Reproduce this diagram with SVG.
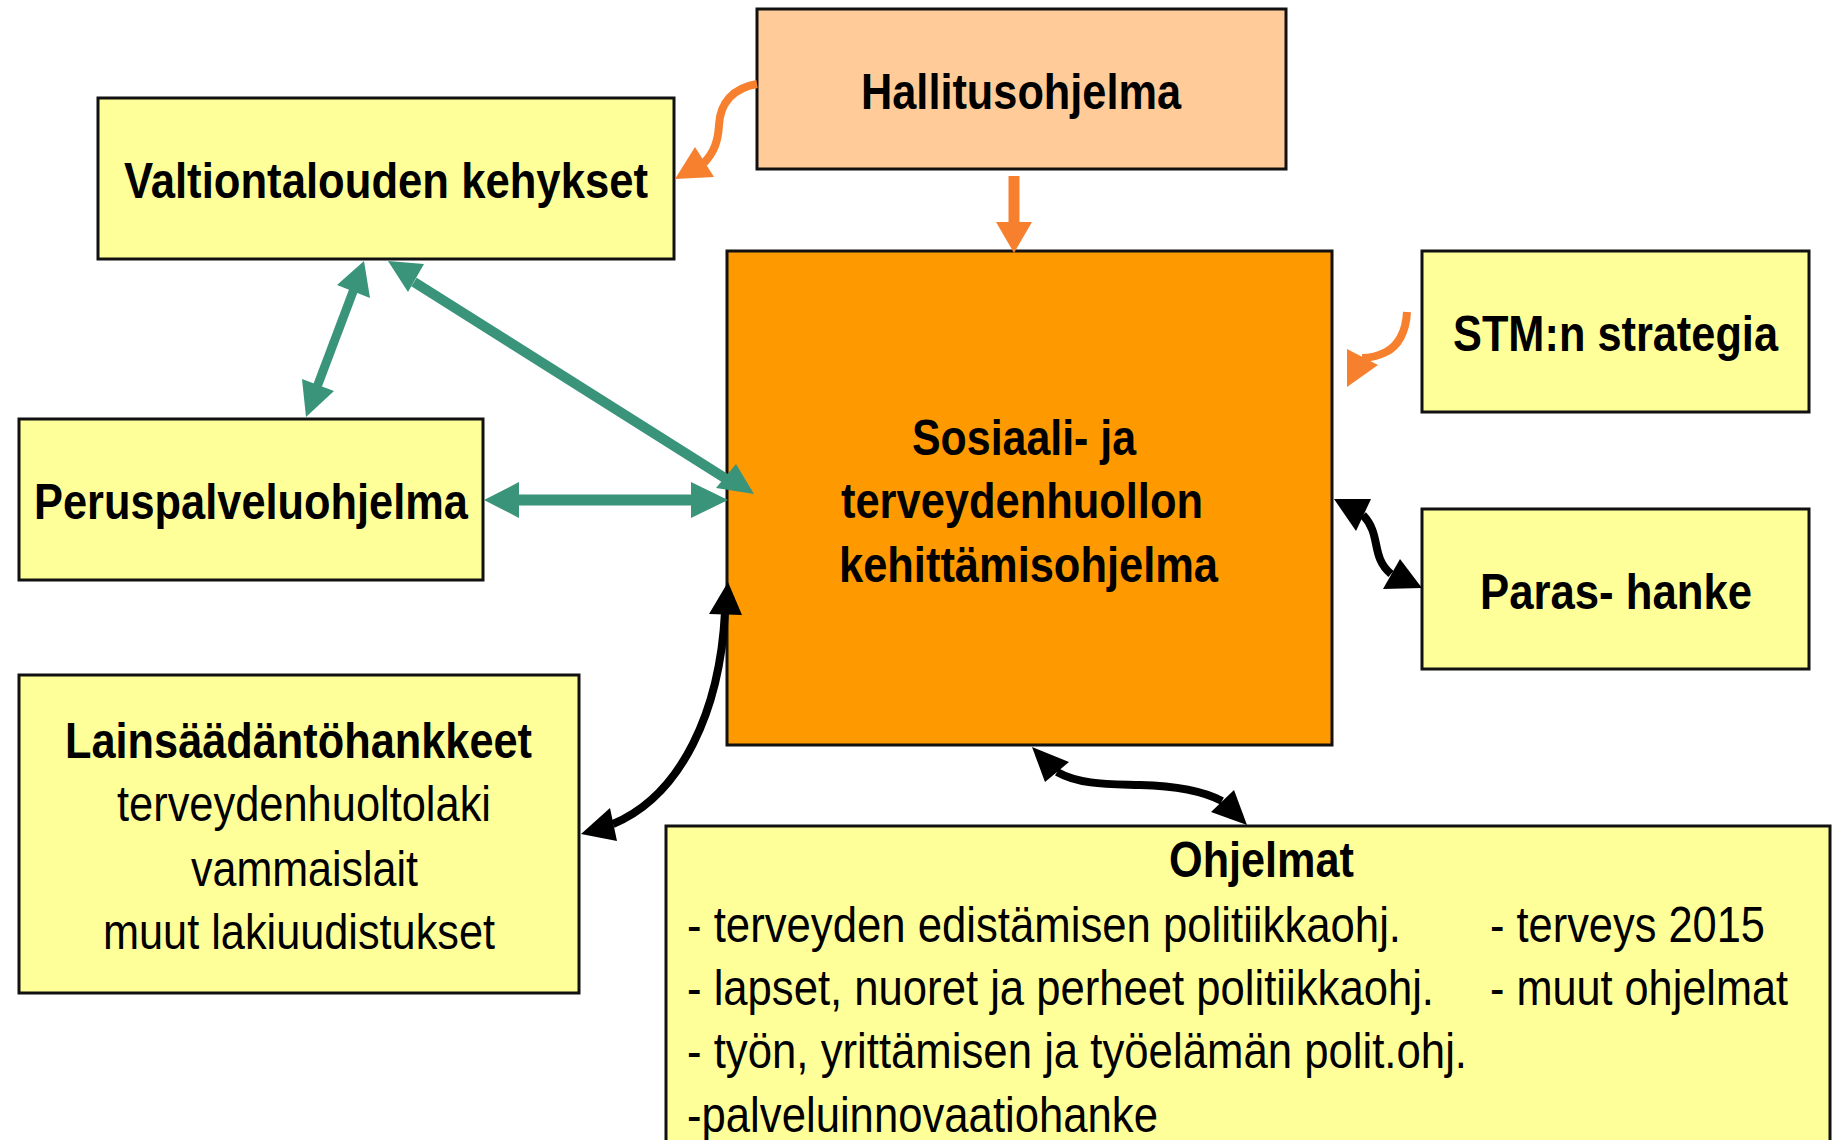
<svg xmlns="http://www.w3.org/2000/svg" width="1835" height="1140" viewBox="0 0 1835 1140">
<style>
.box{stroke:#111;stroke-width:3}
.y{fill:#FFFF99}
.p{fill:#FFCC99}
.o{fill:#FF9900}
text{font-family:"Liberation Sans Narrow","Liberation Sans",Arial,sans-serif;font-size:50px;fill:#000}
.b{font-weight:bold}
.teal{stroke:#3A947A;fill:none}
.tealh{fill:#3A947A}
.or{stroke:#F7802F;fill:none}
.orh{fill:#F7802F}
.bk{stroke:#000;fill:none;stroke-width:8}
.bkh{fill:#000}
</style>
<rect width="1835" height="1140" fill="#fff"/>
<g id="hallitusohjelma">
<rect class="box p" x="757" y="9" width="529" height="160"/>
<text class="b" x="861" y="109" textLength="320" lengthAdjust="spacingAndGlyphs">Hallitusohjelma</text>
</g>
<g id="valtiontalouden">
<rect class="box y" x="98" y="98" width="576" height="161"/>
<text class="b" x="124" y="198" textLength="524" lengthAdjust="spacingAndGlyphs">Valtiontalouden kehykset</text>
</g>
<g id="sosiaali">
<rect class="box o" x="727" y="251" width="605" height="494"/>
<text class="b" x="912" y="455" textLength="224" lengthAdjust="spacingAndGlyphs">Sosiaali- ja</text>
<text class="b" x="841" y="518" textLength="362" lengthAdjust="spacingAndGlyphs">terveydenhuollon</text>
<text class="b" x="839" y="582" textLength="379" lengthAdjust="spacingAndGlyphs">kehittämisohjelma</text>
</g>
<g id="stm">
<rect class="box y" x="1422" y="251" width="387" height="161"/>
<text class="b" x="1453" y="351" textLength="325" lengthAdjust="spacingAndGlyphs">STM:n strategia</text>
</g>
<g id="paras">
<rect class="box y" x="1422" y="509" width="387" height="160"/>
<text class="b" x="1480" y="609" textLength="272" lengthAdjust="spacingAndGlyphs">Paras- hanke</text>
</g>
<g id="peruspalvelu">
<rect class="box y" x="19" y="419" width="464" height="161"/>
<text class="b" x="34" y="519" textLength="434" lengthAdjust="spacingAndGlyphs">Peruspalveluohjelma</text>
</g>
<g id="lainsaadanto">
<rect class="box y" x="19" y="675" width="560" height="318"/>
<text class="b" x="65" y="758" textLength="467" lengthAdjust="spacingAndGlyphs">Lainsäädäntöhankkeet</text>
<text x="117" y="821" textLength="374" lengthAdjust="spacingAndGlyphs">terveydenhuoltolaki</text>
<text x="191" y="886" textLength="227" lengthAdjust="spacingAndGlyphs">vammaislait</text>
<text x="103" y="949" textLength="392" lengthAdjust="spacingAndGlyphs">muut lakiuudistukset</text>
</g>
<g id="ohjelmat">
<rect class="box y" x="666" y="826" width="1164" height="330"/>
<text class="b" x="1169" y="877" textLength="185" lengthAdjust="spacingAndGlyphs">Ohjelmat</text>
<text x="687" y="942" textLength="714" lengthAdjust="spacingAndGlyphs">- terveyden edistämisen politiikkaohj.</text>
<text x="687" y="1005" textLength="747" lengthAdjust="spacingAndGlyphs">- lapset, nuoret ja perheet politiikkaohj.</text>
<text x="687" y="1068" textLength="780" lengthAdjust="spacingAndGlyphs">- työn, yrittämisen ja työelämän polit.ohj.</text>
<text x="687" y="1132" textLength="471" lengthAdjust="spacingAndGlyphs">-palveluinnovaatiohanke</text>
<text x="1490" y="942" textLength="275" lengthAdjust="spacingAndGlyphs">- terveys 2015</text>
<text x="1490" y="1005" textLength="298" lengthAdjust="spacingAndGlyphs">- muut ohjelmat</text>
</g>
<g id="connectors">
<path class="or" stroke-width="8" d="M757,84 C733,88 720,103 719,125 C718,142 714,152 704,163"/>
<polygon class="orh" points="675,179 695,147 714,177"/>
<path class="or" stroke-width="11" d="M1014,176 L1014,224"/>
<polygon class="orh" points="996,222 1032,222 1014,253"/>
<path class="or" stroke-width="8" d="M1407,312 C1406,332 1398,346 1386,352 C1376,357 1370,358 1362,358"/>
<polygon class="orh" points="1347,387 1347,349 1378,365"/>
<path class="teal" stroke-width="9" d="M354,289 L317,387"/>
<polygon class="tealh" points="364,261 337,285 370,298"/>
<polygon class="tealh" points="306,417 302,379 334,391"/>
<path class="teal" stroke-width="10" d="M414,282 L728,480"/>
<polygon class="tealh" points="388,261 408,292 424,264"/>
<polygon class="tealh" points="754,494 716,488 736,464"/>
<path class="teal" stroke-width="11" d="M517,500 L693,500"/>
<polygon class="tealh" points="484,500 519,482 519,518"/>
<polygon class="tealh" points="728,500 691,482 691,518"/>
<path class="bk" d="M1363,515 C1382,535 1370,556 1391,574"/>
<polygon class="bkh" points="1334,499 1371,499 1356,531"/>
<polygon class="bkh" points="1422,588 1383,589 1400,559"/>
<path class="bk" d="M725,612 C720,710 682,795 613,824"/>
<polygon class="bkh" points="728,582 709,614 742,615"/>
<polygon class="bkh" points="581,834 610,808 617,841"/>
<path class="bk" d="M1057,772 C1080,785 1110,784 1140,785 C1180,786 1205,792 1222,801"/>
<polygon class="bkh" points="1032,747 1045,782 1069,762"/>
<polygon class="bkh" points="1247,825 1211,812 1234,790"/>
</g>
</svg>
